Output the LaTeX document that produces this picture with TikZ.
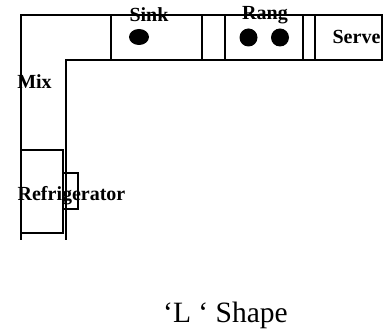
\documentclass[tikz,border=0pt]{standalone}
\usepackage{fontspec}
\setmainfont{Liberation Serif}
\tikzset{
    wall/.style={draw, line width=1.4pt},
    burner/.style={fill=black},
    tag/.style={font=\bfseries\fontsize{20}{20}\selectfont, inner sep=0pt},
    title/.style={font=\fontsize{29.5}{29.5}\selectfont, inner sep=0pt}
}
\begin{document}
\begin{tikzpicture}[x=1pt, y=-1pt]
            \useasboundingbox (0,0) rectangle (389,331);
            \draw[wall] (21,240) -- (21,15) -- (382,15) -- (382,60) -- (66,60) -- (66,240);
            \draw[wall] (111,15) -- (111,60);
            \draw[wall] (202,15) -- (202,60);
            \draw[wall] (225,15) -- (225,60);
            \draw[wall] (303,15) -- (303,60);
            \draw[wall] (315,15) -- (315,60);
            \draw[wall] (21,150) rectangle (63,233);
            \draw[wall] (63,173) rectangle (78,209);
            \fill[burner] (139,37) ellipse (10 and 8);
            \fill[burner] (248.5,37.5) circle (9);
            \fill[burner] (280,37.5) circle (9);
            \node[tag] (sink) at (149,14.5) {Sink};
            \node[tag] (rang) at (265,15.5) {Rang};
            \node[tag] (serve) at (356.5,37) {Serve};
            \node[tag] (mix) at (34.5,81.5) {Mix};
            \node[tag] (refrigerator) at (71.5,196) {Refrigerator};
            \node[title, anchor=base] (shape) at (225.5,323) {‘L ‘ Shape};
        \end{tikzpicture}
\end{document}
